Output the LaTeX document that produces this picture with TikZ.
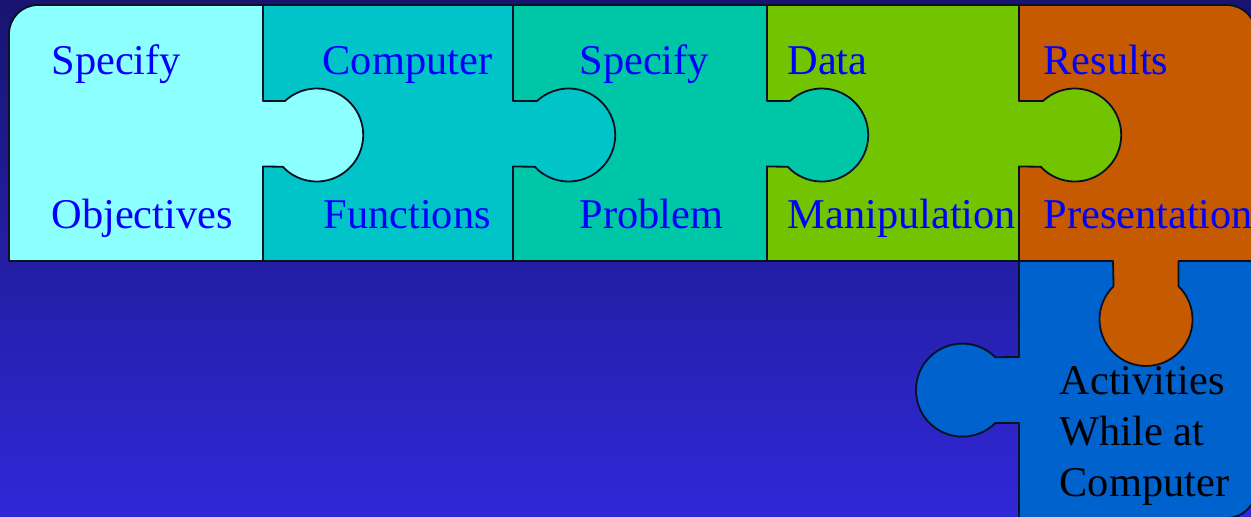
\documentclass[tikz,border=0pt]{standalone}
\usepackage{fontspec}
\setmainfont{Liberation Serif}
\definecolor{bgtop}{RGB}{24,20,112}
\definecolor{bgbot}{RGB}{48,40,216}
\definecolor{pcyan}{RGB}{140,255,255}
\definecolor{pteal}{RGB}{0,196,200}
\definecolor{psea}{RGB}{0,198,168}
\definecolor{pgreen}{RGB}{114,196,0}
\definecolor{porange}{RGB}{198,90,0}
\definecolor{pblue}{RGB}{0,98,204}
\definecolor{edgecol}{RGB}{8,16,36}
% #1 = edge x, #2 = length of the neck from the edge to the arc
\newcommand\tabr[2]{-- (#1,101) -- ++(#2,0) arc[start angle=-133,end angle=137,radius=46.5] -- (#1,166.5)}
\tikzset{
  x=1pt,y=-1pt,
  piece/.style={draw=edgecol,line width=1.8pt,line join=round},
  bluetext/.style={text=blue,anchor=base west,inner sep=0pt,font=\fontsize{42.4}{50}\selectfont},
  blacktext/.style={text=black,anchor=base west,inner sep=0pt,font=\fontsize{42.4}{50}\selectfont},
}
\begin{document}
\begin{tikzpicture}
\useasboundingbox (0,0) rectangle (1251,517);
\clip (0,0) rectangle (1251,517);
\shade[top color=bgtop,bottom color=bgbot] (0,0) rectangle (1251,517);
% blue piece
\path[piece,fill=pblue] (1019,261) -- (1256,261) -- (1256,489) arc[start angle=0,end angle=90,radius=29] -- (1019,518) -- (1019,423) -- (995.3,423) arc[start angle=45,end angle=315,radius=46.5] -- (1019,357) -- cycle;
% orange piece
\path[piece,fill=porange] (1019,5) -- (1227,5) arc[start angle=-90,end angle=0,radius=29] -- (1256,261) -- (1178.5,261) -- (1178.5,286.2) arc[start angle=-45.7,end angle=225.7,radius=46.5] -- (1113,261) -- (1019,261) -- cycle;
% green piece
\path[piece,fill=pgreen] (767,5) -- (1019,5) \tabr{1019}{24} -- (1019,261) -- (767,261) -- cycle;
% sea green piece
\path[piece,fill=psea] (513,5) -- (767,5) \tabr{767}{23} -- (767,261) -- (513,261) -- cycle;
% teal piece
\path[piece,fill=pteal] (263,5) -- (513,5) \tabr{513}{24} -- (513,261) -- (263,261) -- cycle;
% cyan piece
\path[piece,fill=pcyan] (9,34) arc[start angle=180,end angle=270,radius=29] -- (263,5) \tabr{263}{22} -- (263,261) -- (9,261) -- cycle;
% labels
\node[bluetext] (a1) at (51.3,74) {Specify};
\node[bluetext] (a2) at (51.3,228) {Objectives};
\node[bluetext] (b1) at (322.5,74) {Computer};
\node[bluetext] (b2) at (323.3,228) {Functions};
\node[bluetext] (c1) at (579.3,74) {Specify};
\node[bluetext] (c2) at (579.3,228) {Problem};
\node[bluetext] (d1) at (787.3,74) {Data};
\node[bluetext] (d2) at (787.3,228) {Manipulation};
\node[bluetext] (e1) at (1043.3,74) {Results};
\node[bluetext] (e2) at (1043.3,228) {Presentation};
\node[blacktext] (f1) at (1059.5,394) {Activities};
\node[blacktext] (f2) at (1059.5,445) {While at};
\node[blacktext] (f3) at (1059.5,496) {Computer};
\end{tikzpicture}
\end{document}
